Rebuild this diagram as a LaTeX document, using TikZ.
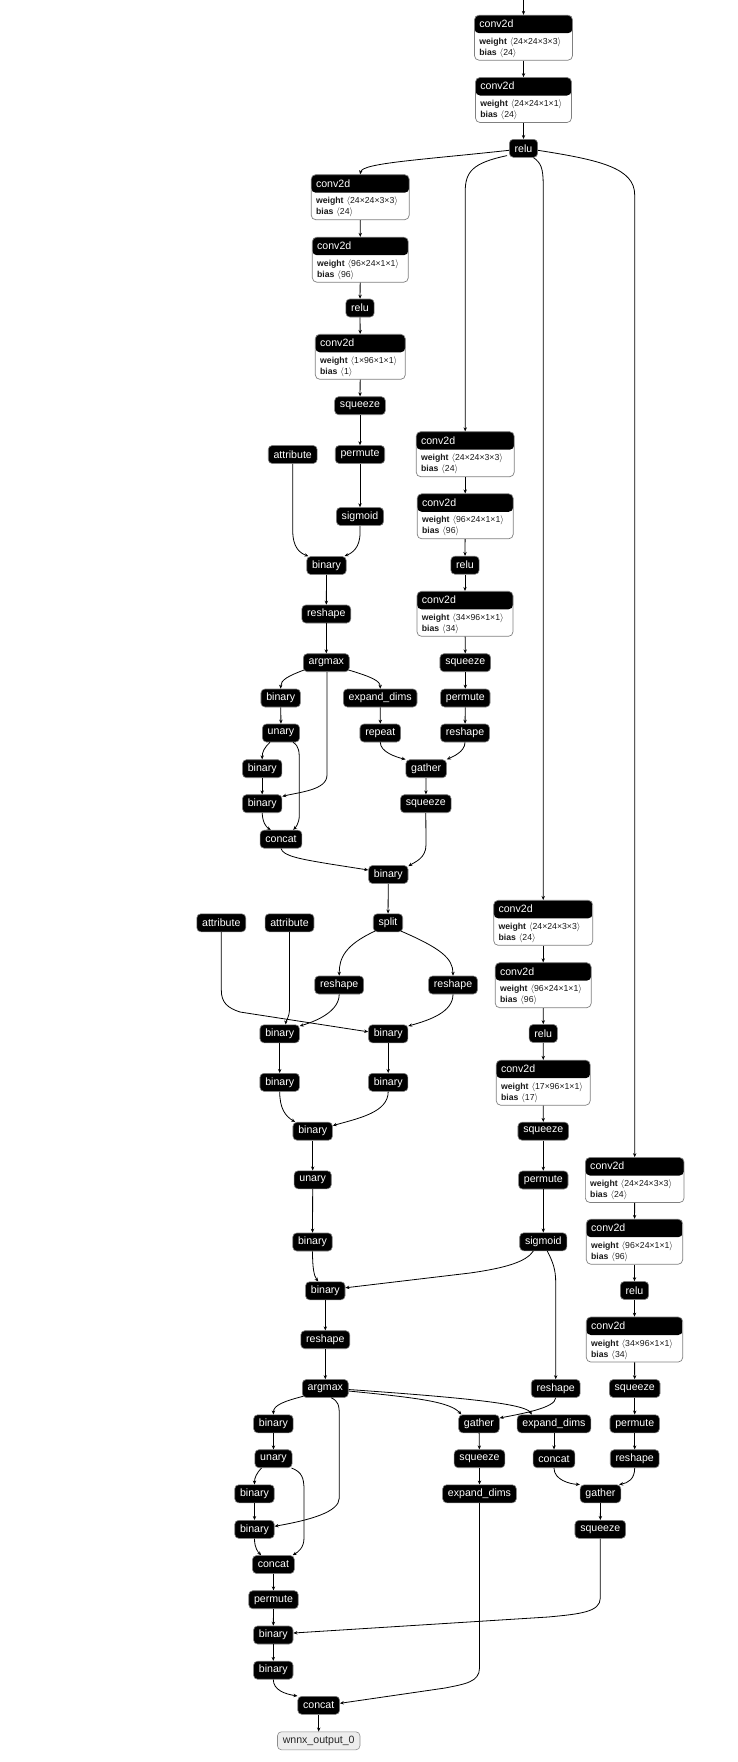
\documentclass[tikz,border=0pt]{standalone}
\usepackage{fontspec}
\setmainfont{Liberation Sans}
\usetikzlibrary{arrows.meta}
\newcommand\lblfont{\fontsize{10.6}{12}\selectfont}
\newcommand\attrfont{\fontsize{8.7}{10}\selectfont}
\tikzset{
  op/.style={rectangle, rounded corners=4pt, fill=black, draw=black!50, line width=0.6pt, text=white, font=\lblfont, minimum height=18pt, inner xsep=5.3pt, inner ysep=0pt},
  outnode/.style={op, fill=black!7, draw=black!45, text=black!85},
  conv/.style={rectangle, rounded corners=4.5pt, fill=white, draw=black!50, line width=0.7pt, minimum height=45pt, inner sep=0pt,
    path picture={\fill[black] (path picture bounding box.north west) rectangle ([yshift=-18pt]path picture bounding box.north east);}},
  hdr/.style={anchor=west, text=white, font=\lblfont, inner sep=0pt},
  attr/.style={anchor=base west, text=black!90, font=\attrfont, inner sep=0pt},
  conn/.style={draw=black, line width=0.8pt, -{Stealth[length=4pt,width=3.4pt]}},
}
\newcommand\convnode[6]{%
  \node[conv, minimum width=#4pt] (#1) at (#2,#3) {};
  \node[hdr] (#1h) at ([xshift=5pt,yshift=-9pt]#1.north west) {conv2d};
  \node[attr] (#1w) at ([xshift=5pt,yshift=-29.5pt]#1.north west) {\textbf{weight}\,\,$\langle$#5$\rangle$};
  \node[attr] (#1b) at ([xshift=5pt,yshift=-40.5pt]#1.north west) {\textbf{bias}\,\,$\langle$#6$\rangle$};
}
\begin{document}
\begin{tikzpicture}[x=1pt,y=-1pt]
\fill[white] (0,0) rectangle (738,1762);
\useasboundingbox (0,0) rectangle (738,1762);

% top trunk
\convnode{A1}{523.5}{37.7}{98}{24×24×3×3}{24}
\convnode{A2}{523.5}{100}{96}{24×24×1×1}{24}
\node[op] (R0) at (523.5,148.3) {relu};

% branch B (left)
\convnode{B1}{360.2}{197.2}{98}{24×24×3×3}{24}
\convnode{B2}{360.3}{259.7}{96}{96×24×1×1}{96}
\node[op] (B3) at (360,308) {relu};
\convnode{B4}{360.3}{356.8}{90}{1×96×1×1}{1}
\node[op] (B5) at (360,405.7) {squeeze};
\node[op] (B6a) at (292.7,454.5) {attribute};
\node[op] (B6) at (360,454.5) {permute};
\node[op] (B7) at (360,516.5) {sigmoid};
\node[op] (B8) at (326.5,565.5) {binary};
\node[op] (B9) at (326.3,614) {reshape};
\node[op] (B10) at (326.3,662.7) {argmax};
\node[op] (B11) at (280.7,698) {binary};
\node[op] (B12) at (380.2,698) {expand\_dims};
\node[op] (B13) at (281,733) {unary};
\node[op] (B14) at (380.3,733) {repeat};
\node[op] (B15) at (262.2,768.7) {binary};
\node[op] (B16) at (426.2,768.7) {gather};
\node[op] (B17) at (262.2,803.7) {binary};
\node[op] (B18) at (425.8,803.7) {squeeze};
\node[op] (B19) at (281,839.2) {concat};
\node[op] (B20) at (388.3,874.5) {binary};
\node[op] (B21) at (388,922.8) {split};
\node[op] (B22a) at (221.3,922.8) {attribute};
\node[op] (B22b) at (289.5,922.8) {attribute};
\node[op] (B23) at (339.2,985) {reshape};
\node[op] (B24) at (453,985) {reshape};
\node[op] (B25) at (279.7,1033.8) {binary};
\node[op] (B26) at (388.2,1033.8) {binary};
\node[op] (B27) at (279.7,1082.3) {binary};
\node[op] (B28) at (388.2,1082.3) {binary};
\node[op] (B29) at (312.7,1131.2) {binary};
\node[op] (B30) at (312.7,1179.8) {unary};
\node[op] (B31) at (312.5,1242) {binary};
\node[op] (B32) at (325.3,1290.8) {binary};
\node[op] (B33) at (325.3,1339.7) {reshape};
\node[op] (B34) at (325.3,1388.5) {argmax};
\node[op] (B35) at (273.4,1423.8) {binary};
\node[op] (B36) at (273.5,1458.7) {unary};
\node[op] (B37) at (254.5,1493.8) {binary};
\node[op] (B38) at (254.5,1529.3) {binary};
\node[op] (B39) at (273.4,1564.5) {concat};
\node[op] (B40) at (273.5,1599.7) {permute};
\node[op] (B41) at (273.3,1635) {binary};
\node[op] (B42) at (273.3,1670.2) {binary};
\node[op] (B43) at (318.7,1705.3) {concat};
\node[outnode] (OUT) at (318.7,1740.8) {wnnx\_output\_0};

% branch C
\convnode{C1}{465.2}{454.2}{98}{24×24×3×3}{24}
\convnode{C2}{465.2}{516.3}{96}{96×24×1×1}{96}
\node[op] (C3) at (465,565.2) {relu};
\convnode{C4}{465}{613.8}{96}{34×96×1×1}{34}
\node[op] (C5) at (465.3,662.7) {squeeze};
\node[op] (C6) at (465.3,698) {permute};
\node[op] (C7) at (465,733) {reshape};

% branch D
\convnode{D1}{543.2}{922.8}{99}{24×24×3×3}{24}
\convnode{D2}{543.2}{985.2}{96}{96×24×1×1}{96}
\node[op] (D3) at (543.3,1033.5) {relu};
\convnode{D4}{543.2}{1082.7}{94}{17×96×1×1}{17}
\node[op] (D5) at (543.3,1131.2) {squeeze};
\node[op] (D6) at (543.3,1180) {permute};
\node[op] (D7) at (543.3,1241.8) {sigmoid};
\node[op] (D8) at (555.7,1388.5) {reshape};

% branch E
\convnode{E1}{634.7}{1180}{98.7}{24×24×3×3}{24}
\convnode{E2}{634.5}{1241.7}{96.4}{96×24×1×1}{96}
\node[op] (E3) at (634.5,1290.5) {relu};
\convnode{E4}{634.5}{1339.5}{96.4}{34×96×1×1}{34}
\node[op] (E5) at (634.7,1388.5) {squeeze};
\node[op] (E6) at (634.7,1423.8) {permute};
\node[op] (E7) at (634.7,1458.7) {reshape};
\node[op] (E8) at (600.5,1493.8) {gather};
\node[op] (E9) at (600.3,1529.3) {squeeze};

% branch F
\node[op] (F1) at (479,1423.8) {gather};
\node[op] (F2) at (554,1423.8) {expand\_dims};
\node[op] (F3) at (479.5,1458.7) {squeeze};
\node[op] (F4) at (554,1458.7) {concat};
\node[op] (F5) at (479.5,1493.8) {expand\_dims};

% ---------- connectors ----------
\coordinate (in0) at (523.5,0);
\draw[conn] (in0) -- (A1);
\draw[conn] (A1) -- (A2);
\draw[conn] (A2) -- (R0);
\draw[conn] ([yshift=-2pt]R0.west) .. controls (420,160) and (362,163) .. (B1.north);
\draw[conn] ([xshift=-2pt,yshift=2pt]R0.south west) .. controls (472,163) and (465.2,172) .. (465.2,192) -- (C1.north);
\draw[conn] ([xshift=10pt]R0.south) .. controls (541,163) and (543.2,168) .. (543.2,185) -- (D1.north);
\draw[conn] ([yshift=-2pt]R0.east) .. controls (600,160) and (634.7,168) .. (634.7,195) -- (E1.north);

\draw[conn] (B1) -- (B2);
\draw[conn] (B2) -- (B3);
\draw[conn] (B3) -- (B4);
\draw[conn] (B4) -- (B5);
\draw[conn] (B5) -- (B6);
\draw[conn] (B6) -- (B7);
\draw[conn] (B6a.south) -- (292.7,530) .. controls (292.7,548) and (300,553) .. ([xshift=2pt]B8.north west);
\draw[conn] (B7.south) -- (360,533) .. controls (360,548) and (352,553) .. ([xshift=-2pt]B8.north east);
\draw[conn] (B8) -- (B9);
\draw[conn] (B9) -- (B10);
\draw[conn] ([xshift=1pt,yshift=2pt]B10.south west) .. controls (288,676) and (280.7,680) .. (B11.north);
\draw[conn] ([xshift=-1pt,yshift=2pt]B10.south east) .. controls (372,677) and (380.2,681) .. (B12.north);
\draw[conn] ([xshift=0.7pt]B10.south) -- (327,775) .. controls (327,790) and (300,792) .. ([yshift=-2pt]B17.north east);
\draw[conn] (B11) -- (B13);
\draw[conn] (B12) -- (B14);
\draw[conn] ([xshift=-11pt]B13.south) .. controls (264,748) and (262.2,752) .. (B15.north);
\draw[conn] ([xshift=12pt]B13.south) .. controls (299.3,746) and (299.3,752) .. (299.3,762) -- (299.3,815) .. controls (299.3,824) and (295,828) .. ([xshift=-9pt]B19.north east);
\draw[conn] (B14.south) .. controls (380.3,752) and (396,757) .. (B16.north west);
\draw[conn] (C7.south) .. controls (465,752) and (452,757) .. (B16.north east);
\draw[conn] (B15) -- (B17);
\draw[conn] (B16) -- (B18);
\draw[conn] (B17.south) .. controls (262.5,822) and (266,827) .. ([xshift=11pt]B19.north west);
\draw[conn] (B18.south) -- (426,845) .. controls (426,858) and (415,862) .. ([yshift=-1pt]B20.north east);
\draw[conn] (B19.south) .. controls (283,856) and (300,859) .. (330,864) -- ([yshift=4.5pt]B20.west);
\draw[conn] (B20) -- (B21);
\draw[conn] ([xshift=2pt,yshift=1pt]B21.south west) .. controls (345,945) and (339.2,958) .. (B23.north);
\draw[conn] ([xshift=-2pt,yshift=1pt]B21.south east) .. controls (440,948) and (453,958) .. (B24.north);
\draw[conn] (B22a.south) -- (221.3,990) .. controls (221.3,1003) and (228,1008) .. (240,1012) -- ([yshift=2pt]B26.west);
\draw[conn] (B22b.south) -- (289.5,1008) .. controls (289.5,1018) and (286,1020) .. ([xshift=6pt]B25.north);
\draw[conn] (B23.south) .. controls (339.2,1010) and (320,1020) .. ([yshift=-1.5pt]B25.north east);
\draw[conn] (B24.south) .. controls (453,1012) and (430,1020) .. ([yshift=-1.5pt]B26.north east);
\draw[conn] (B25) -- (B27);
\draw[conn] (B26) -- (B28);
\draw[conn] (B27.south) .. controls (279.7,1108) and (285,1116) .. ([xshift=2.5pt]B29.north west);
\draw[conn] (B28.south) .. controls (388.2,1112) and (360,1118) .. ([yshift=-3.7pt]B29.north east);
\draw[conn] (B29) -- (B30);
\draw[conn] (B30) -- (B31);
\draw[conn] (B31.south) .. controls (312.5,1268) and (314,1276) .. ([xshift=-7pt]B32.north);
\draw[conn] ([xshift=-10pt]D7.south) .. controls (526,1262) and (505,1268) .. (470,1273) -- ([yshift=3pt]B32.east);
\draw[conn] (B32) -- (B33);
\draw[conn] (B33) -- (B34);
\draw[conn] ([xshift=1pt,yshift=1.5pt]B34.south west) .. controls (285,1401) and (273.4,1405) .. (B35.north);
\draw[conn] ([xshift=6pt]B34.south) .. controls (338,1401) and (339.3,1405) .. (339.3,1415) -- (339.3,1498) .. controls (339.3,1512) and (310,1520) .. ([yshift=3pt]B38.east);
\draw[conn] ([yshift=-2.5pt]B34.east) .. controls (420,1398) and (450,1402) .. ([xshift=3pt]F1.north west);
\draw[conn] ([yshift=-1pt]B34.east) .. controls (470,1398) and (525,1404) .. ([xshift=15pt]F2.north west);
\draw[conn] (B35) -- (B36);
\draw[conn] ([xshift=-12pt]B36.south) .. controls (256,1474) and (254.5,1478) .. (B37.north);
\draw[conn] ([xshift=18pt]B36.south) .. controls (302,1472) and (304,1478) .. (304,1490) -- (304,1538) .. controls (304,1548) and (298,1552) .. ([xshift=-2pt]B39.north east);
\draw[conn] (B37) -- (B38);
\draw[conn] (B38.south) .. controls (254.5,1548) and (258,1552) .. ([xshift=9pt]B39.north west);
\draw[conn] (B39) -- (B40);
\draw[conn] (B40) -- (B41);
\draw[conn] (B41) -- (B42);
\draw[conn] (B42.south) .. controls (273.3,1690) and (285,1694) .. (B43.north west);
\draw[conn] (B43) -- (OUT);

\draw[conn] (C1) -- (C2);
\draw[conn] (C2) -- (C3);
\draw[conn] (C3) -- (C4);
\draw[conn] (C4) -- (C5);
\draw[conn] (C5) -- (C6);
\draw[conn] (C6) -- (C7);

\draw[conn] (D1) -- (D2);
\draw[conn] (D2) -- (D3);
\draw[conn] (D3) -- (D4);
\draw[conn] (D4) -- (D5);
\draw[conn] (D5) -- (D6);
\draw[conn] (D6) -- (D7);
\draw[conn] ([xshift=4pt]D7.south) .. controls (553,1262) and (555.7,1270) .. (555.7,1282) -- (D8.north);
\draw[conn] (D8.south) .. controls (555.7,1408) and (520,1414) .. ([yshift=-3.5pt]F1.north east);

\draw[conn] (E1) -- (E2);
\draw[conn] (E2) -- (E3);
\draw[conn] (E3) -- (E4);
\draw[conn] (E4) -- (E5);
\draw[conn] (E5) -- (E6);
\draw[conn] (E6) -- (E7);
\draw[conn] (E7.south) .. controls (634.7,1479) and (628,1483) .. ([xshift=-2pt]E8.north east);
\draw[conn] (F4.south) .. controls (554,1480) and (570,1484) .. (E8.north west);
\draw[conn] (E8) -- (E9);
\draw[conn] (E9.south) -- (600.3,1598) .. controls (600.3,1612) and (580,1614) .. (548,1617) -- ([yshift=2pt]B41.east);

\draw[conn] (F1) -- (F3);
\draw[conn] (F3) -- (F5);
\draw[conn] (F2) -- (F4);
\draw[conn] (F5.south) -- (479.5,1668) .. controls (479.5,1682) and (465,1684) .. (445,1688) -- ([yshift=2pt]B43.east);
\end{tikzpicture}
\end{document}
